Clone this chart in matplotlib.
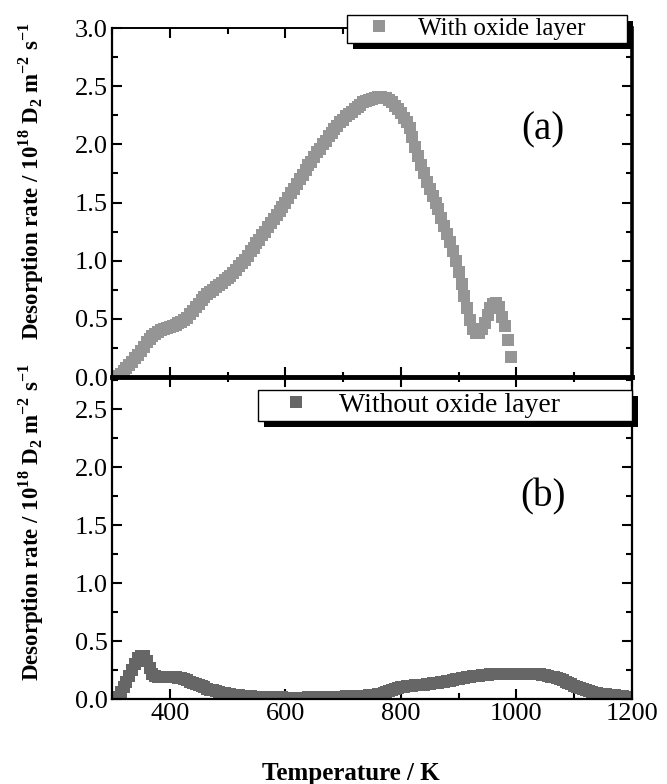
import numpy as np
import matplotlib
matplotlib.use('Agg')
import matplotlib.pyplot as plt
from matplotlib.ticker import MultipleLocator, FormatStrFormatter
from matplotlib.patches import Rectangle
from matplotlib.transforms import IdentityTransform

plt.rcParams['font.family'] = ['Liberation Serif', 'DejaVu Serif']
plt.rcParams['mathtext.fontset'] = 'custom'
plt.rcParams['mathtext.rm'] = 'Liberation Serif'
plt.rcParams['mathtext.bf'] = 'Liberation Serif:bold'

# ---------------- data ----------------
# (a) with oxide layer: samples every 5 K starting at 300 K
rate_with_oxide = [
    0.00, 0.00, 0.01, 0.03, 0.05, 0.075, 0.10, 0.13, 0.16, 0.19,   # 300-345
    0.22, 0.26, 0.30, 0.33, 0.35, 0.37, 0.39, 0.40, 0.41, 0.42,    # 350-395
    0.43, 0.44, 0.45, 0.46, 0.47, 0.49, 0.51, 0.54, 0.57, 0.60,    # 400-445
    0.63, 0.66, 0.69, 0.71, 0.73, 0.75, 0.77, 0.79, 0.81, 0.83,    # 450-495
    0.85, 0.87, 0.89, 0.92, 0.95, 0.98, 1.01, 1.04, 1.08, 1.11,    # 500-545
    1.15, 1.18, 1.22, 1.25, 1.29, 1.32, 1.36, 1.39, 1.43, 1.46,    # 550-595
    1.50, 1.54, 1.58, 1.62, 1.66, 1.70, 1.74, 1.78, 1.82, 1.85,    # 600-645
    1.89, 1.93, 1.96, 2.00, 2.03, 2.07, 2.10, 2.13, 2.16, 2.19,    # 650-695
    2.21, 2.24, 2.26, 2.28, 2.30, 2.32, 2.34, 2.36, 2.37, 2.38,    # 700-745
    2.39, 2.40, 2.41, 2.41, 2.40, 2.40, 2.38, 2.36, 2.33, 2.30,    # 750-795
    2.27, 2.23, 2.19, 2.14, 2.06, 1.98, 1.90, 1.82, 1.75, 1.68,    # 800-845
    1.62, 1.56, 1.50, 1.44, 1.37, 1.30, 1.23, 1.16, 1.08, 1.00,    # 850-895
    0.90, 0.80, 0.70, 0.59, 0.49, 0.41, 0.38, 0.38, 0.41, 0.46,    # 900-945
    0.53, 0.59, 0.63, 0.64, 0.60, 0.52, 0.44, 0.32, 0.17,          # 950-990
]
temp_with_oxide = 300 + 5 * np.arange(len(rate_with_oxide))

# (b) without oxide layer: samples every 5 K starting at 300 K
rate_without_oxide = [
    0.00, 0.00, 0.02, 0.06, 0.10, 0.15, 0.20, 0.25, 0.30, 0.35,    # 300-345
    0.37, 0.37, 0.33, 0.27, 0.22, 0.20, 0.19, 0.19, 0.19, 0.19,    # 350-395
    0.19, 0.19, 0.19, 0.18, 0.18, 0.17, 0.16, 0.15, 0.14, 0.13,    # 400-445
    0.12, 0.11, 0.10, 0.09, 0.08, 0.075, 0.07, 0.06, 0.055, 0.05,  # 450-495
    0.045, 0.04, 0.037, 0.034, 0.031, 0.028, 0.026, 0.024, 0.022, 0.020,  # 500-545
    0.019, 0.018, 0.017, 0.016, 0.015, 0.015, 0.014, 0.014, 0.013, 0.013,  # 550-595
    0.012, 0.012, 0.012, 0.012, 0.012, 0.012, 0.012, 0.012, 0.013, 0.013,  # 600-645
    0.013, 0.014, 0.014, 0.015, 0.015, 0.016, 0.017, 0.018, 0.019, 0.020,  # 650-695
    0.021, 0.022, 0.023, 0.024, 0.025, 0.026, 0.027, 0.028, 0.030, 0.032,  # 700-745
    0.035, 0.038, 0.042, 0.047, 0.053, 0.060, 0.068, 0.077, 0.086, 0.094,  # 750-795
    0.100, 0.105, 0.110, 0.113, 0.116, 0.118, 0.120, 0.122, 0.125, 0.128,  # 800-845
    0.131, 0.134, 0.137, 0.141, 0.145, 0.149, 0.154, 0.159, 0.164, 0.169,  # 850-895
    0.174, 0.179, 0.184, 0.188, 0.192, 0.196, 0.199, 0.202, 0.205, 0.208,  # 900-945
    0.210, 0.212, 0.214, 0.216, 0.217, 0.218, 0.219, 0.220, 0.220, 0.220,  # 950-995
    0.220, 0.220, 0.220, 0.219, 0.218, 0.217, 0.216, 0.214, 0.212, 0.209,  # 1000-1045
    0.205, 0.200, 0.194, 0.187, 0.179, 0.170, 0.160, 0.149, 0.138, 0.127,  # 1050-1095
    0.116, 0.105, 0.095, 0.085, 0.076, 0.068, 0.061, 0.055, 0.050, 0.046,  # 1100-1145
    0.042, 0.039, 0.036, 0.034, 0.032, 0.030, 0.027, 0.022, 0.014, 0.005,  # 1150-1195
]
temp_without_oxide = 300 + 5 * np.arange(len(rate_without_oxide))

label_a = 'With oxide layer'
label_b = 'Without oxide layer'
ylabel = (r'Desorption rate / 10$^{\mathbf{18}}$ D$_{\mathbf{2}}$ '
          r'm$^{\mathbf{-2}}$ s$^{\mathbf{-1}}$')
xlabel = 'Temperature / K'

color_a = '#959595'
color_b = '#666666'

# ---------------- figure ----------------
fig = plt.figure(figsize=(6.67, 7.84), dpi=100)
L, R = 112 / 667, 632 / 667
ax1 = fig.add_axes([L, 1 - 377 / 784, R - L, 349 / 784])
ax2 = fig.add_axes([L, 1 - 699 / 784, R - L, 322 / 784])
ax1.set_zorder(2)
ax1.patch.set_alpha(0)

ax1.plot(temp_with_oxide, rate_with_oxide, ls='none', marker='s', ms=9,
         mew=0, color=color_a, label=label_a, clip_on=True)
ax2.plot(temp_without_oxide, rate_without_oxide, ls='none', marker='s', ms=9,
         mew=0, color=color_b, label=label_b, clip_on=True)

for ax in (ax1, ax2):
    ax.set_xlim(300, 1200)
    ax.xaxis.set_major_locator(MultipleLocator(200))
    ax.xaxis.set_minor_locator(MultipleLocator(100))
    ax.yaxis.set_major_locator(MultipleLocator(0.5))
    ax.yaxis.set_minor_locator(MultipleLocator(0.25))
    ax.yaxis.set_major_formatter(FormatStrFormatter('%.1f'))
    ax.tick_params(axis='y', which='both', direction='in', left=True, right=True,
                   labelsize=19, pad=3, width=1.5)
    ax.tick_params(axis='y', which='major', length=7)
    ax.tick_params(axis='y', which='minor', length=4)
    for s in ax.spines.values():
        s.set_linewidth(1.6)

ax1.set_ylim(0, 3.0)
ax2.set_ylim(0, 2.78)

# bottom ticks of top panel cross the thick dividing line
ax1.tick_params(axis='x', which='both', top=False, bottom=True, labelbottom=False,
                width=1.5, direction='inout')
ax1.tick_params(axis='x', which='major', length=15)
ax1.tick_params(axis='x', which='minor', length=7)
ax1.spines['bottom'].set_linewidth(3.5)
ax1.spines['right'].set_linewidth(2.6)
ax1.spines['top'].set_linewidth(1.2)

# top ticks of top panel point inward
sec = ax1.secondary_xaxis('top')
sec.xaxis.set_major_locator(MultipleLocator(200))
sec.xaxis.set_minor_locator(MultipleLocator(100))
sec.tick_params(axis='x', which='both', direction='in', labeltop=False, width=1.5)
sec.tick_params(axis='x', which='major', length=7)
sec.tick_params(axis='x', which='minor', length=4)
sec.spines['top'].set_linewidth(1.2)

ax2.tick_params(axis='x', which='both', direction='in', top=False, bottom=True,
                labelsize=19, pad=3, width=1.5)
ax2.tick_params(axis='x', which='major', length=7)
ax2.tick_params(axis='x', which='minor', length=4)
ax2.spines['top'].set_visible(False)

ax1.set_ylabel(ylabel, fontsize=16.5, fontweight='bold')
ax2.set_ylabel(ylabel, fontsize=16.5, fontweight='bold')
ax1.yaxis.set_label_coords(-0.127, 0.56)
ax2.yaxis.set_label_coords(-0.127, 0.55)
ax2.set_xlabel(xlabel, fontsize=18, fontweight='bold')
ax2.xaxis.set_label_coords(0.46, -0.197)

ax1.text(0.829, 0.708, '(a)', transform=ax1.transAxes, fontsize=28,
         ha='center', va='center')
ax2.text(0.829, 0.627, '(b)', transform=ax2.transAxes, fontsize=28,
         ha='center', va='center')

leg1 = ax1.legend(loc='upper left', bbox_to_anchor=(0.452, 0.954, 0.538, 0.083),
                  mode='expand', borderaxespad=0, fancybox=False, edgecolor='k',
                  framealpha=1, prop={'size': 18}, borderpad=0.1,
                  handlelength=2.36, handletextpad=0.38)
leg2 = ax2.legend(loc='upper left', bbox_to_anchor=(0.281, 0.857, 0.719, 0.103),
                  mode='expand', borderaxespad=0, fancybox=False, edgecolor='k',
                  framealpha=1, prop={'size': 20}, borderpad=0.1,
                  handlelength=2.5, handletextpad=0.32)
for lg in (leg1, leg2):
    lg.get_frame().set_linewidth(1.0)
    lg.set_zorder(6)

fig.canvas.draw()
renderer = fig.canvas.get_renderer()
for ax, lg in ((ax1, leg1), (ax2, leg2)):
    bb = lg.get_window_extent(renderer)
    sh = Rectangle((bb.x0 + 6, bb.y0 - 6), bb.width, bb.height,
                   transform=IdentityTransform(), facecolor='k', edgecolor='none',
                   zorder=5.5, clip_on=False)
    ax.add_artist(sh)

fig.savefig('out.png', dpi=100)
